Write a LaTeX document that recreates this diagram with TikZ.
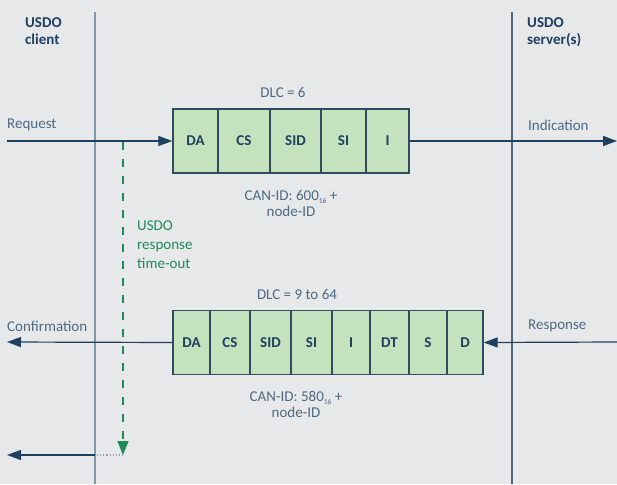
\documentclass[tikz,border=0pt]{standalone}
\usepackage{fontspec}
\setmainfont{Carlito}
\usetikzlibrary{arrows.meta}
\definecolor{bgc}{HTML}{E6E8EA}
\definecolor{navy}{HTML}{1E3F5E}
\definecolor{lbl}{HTML}{4D6A82}
\definecolor{lifeA}{HTML}{8197AB}
\definecolor{lifeB}{HTML}{4A6680}
\definecolor{cellfill}{HTML}{C5E2BF}
\definecolor{cellline}{HTML}{2F4D5E}
\definecolor{tgreen}{HTML}{1F8A55}
\definecolor{dotgray}{HTML}{8A9AA8}
\newcommand{\hexsub}[1]{\raisebox{-3pt}{\fontsize{7.5}{8}\selectfont #1}}
\tikzset{
  cell/.style={draw=cellline, line width=1.4pt, fill=cellfill, inner sep=0pt,
    minimum height=64pt, font=\fontsize{15}{18}\selectfont\bfseries, text=navy},
  msg/.style={draw=navy, line width=1.2pt},
  arr/.style={msg, -{Triangle[length=14pt,width=10pt]}},
  lbltext/.style={font=\fontsize{15}{18}\selectfont, text=lbl, inner sep=0pt},
  role/.style={font=\fontsize{15}{17}\selectfont\bfseries, text=navy, inner sep=0pt, align=left},
  life/.style={line width=1.6pt}
}
\begin{document}
\begin{tikzpicture}[x=1pt,y=-1pt]
  \fill[bgc] (0,0) rectangle (617,484);
  \useasboundingbox (0,0) rectangle (617,484);

  % lifelines
  \coordinate (cltop) at (95,12);
  \coordinate (clbot) at (95,484);
  \coordinate (svtop) at (512,12);
  \coordinate (svbot) at (512,484);
  \draw[life, lifeA] (cltop) -- (clbot);
  \draw[life, lifeB] (svtop) -- (svbot);

  \node[role, anchor=north west] (client) at (25,17) {USDO\\client};
  \node[role, anchor=north west] (server) at (527,17) {USDO\\server(s)};

  % request frame
  \node[cell, minimum width=45pt] (u1) at (195.5,141) {DA};
  \node[cell, minimum width=52pt] (u2) at (244,141) {CS};
  \node[cell, minimum width=51pt] (u3) at (295.5,141) {SID};
  \node[cell, minimum width=45pt] (u4) at (343.5,141) {SI};
  \node[cell, minimum width=43pt] (u5) at (387.5,141) {I};

  \node[lbltext] (dlcu) at (283,92) {DLC = 6};
  \node[lbltext, align=center] (canu) at (291,203) {CAN-ID: 600\hexsub{16} +\\[-2pt]node-ID};

  \coordinate (reqstart) at (7,141);
  \coordinate (indend) at (617,141);
  \draw[arr] (reqstart) -- (u1.west);
  \draw[arr] (u5.east) -- (indend);
  \node[lbltext, anchor=west] (req) at (7,125) {Request};
  \node[lbltext, anchor=west] (ind) at (528,125) {Indication};

  % response frame
  \node[cell, minimum width=37pt] (l1) at (191.5,342.5) {DA};
  \node[cell, minimum width=40pt] (l2) at (230,342.5) {CS};
  \node[cell, minimum width=41pt] (l3) at (270.5,342.5) {SID};
  \node[cell, minimum width=41pt] (l4) at (311.5,342.5) {SI};
  \node[cell, minimum width=38pt] (l5) at (351,342.5) {I};
  \node[cell, minimum width=39pt] (l6) at (389.5,342.5) {DT};
  \node[cell, minimum width=38pt] (l7) at (428,342.5) {S};
  \node[cell, minimum width=36pt] (l8) at (465,342.5) {D};

  \node[lbltext] (dlcl) at (297,294) {DLC = 9 to 64};
  \node[lbltext, align=center] (canl) at (296,404) {CAN-ID: 580\hexsub{16} +\\[-2pt]node-ID};

  \coordinate (confend) at (7,342);
  \coordinate (respstart) at (617,342);
  \draw[arr] (l1.west) -- (confend);
  \draw[arr] (respstart) -- (l8.east);
  \node[lbltext, anchor=west] (conf) at (7,326) {Confirmation};
  \node[lbltext, anchor=west] (resp) at (528,326) {Response};

  % time-out supervision
  \coordinate (tostart) at (123,142);
  \coordinate (toend) at (123,455);
  \coordinate (clhit) at (95,455);
  \coordinate (toout) at (7,455);
  \draw[tgreen, line width=1.2pt, dash pattern=on 8pt off 9pt,
        -{Triangle[length=14pt,width=11pt]}] (tostart) -- (toend);
  \node[font=\fontsize{15}{19}\selectfont, text=tgreen, align=left, anchor=north west, inner sep=0pt]
    (tolabel) at (137,221) {USDO\\response\\time-out};
  \draw[dotgray, line width=1.1pt, dotted] (toend) -- (clhit);
  \draw[arr] (clhit) -- (toout);
\end{tikzpicture}
\end{document}
